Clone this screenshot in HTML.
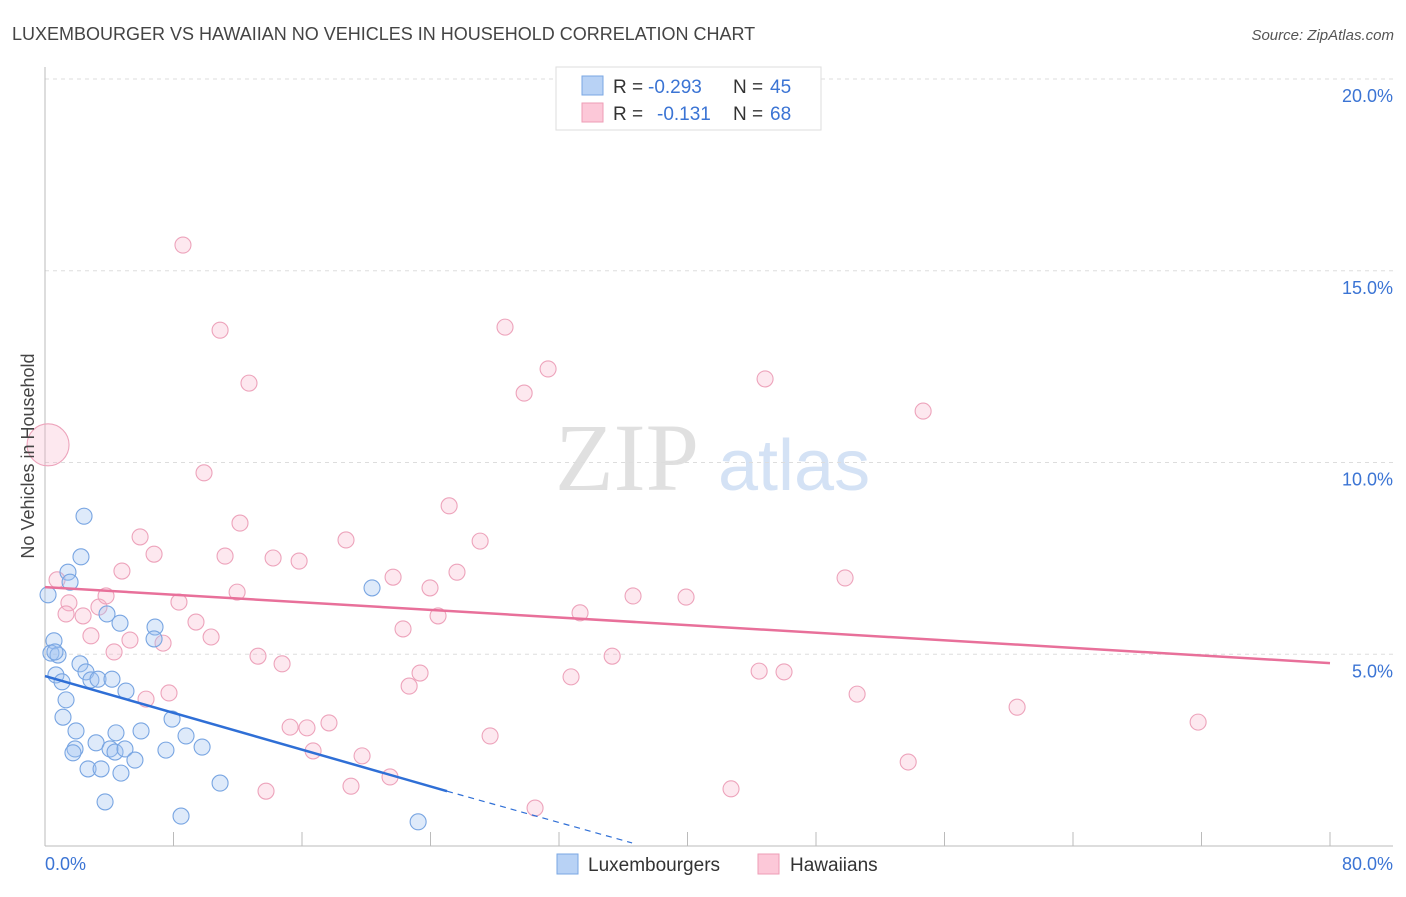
<!DOCTYPE html>
<html><head><meta charset="utf-8"><style>
body{margin:0;background:#fff;font-family:"Liberation Sans",sans-serif}
</style></head><body>
<svg id="chart" width="1406" height="892" xmlns="http://www.w3.org/2000/svg">
<text x="12" y="40" font-size="18" fill="#444">LUXEMBOURGER VS HAWAIIAN NO VEHICLES IN HOUSEHOLD CORRELATION CHART</text>
<text x="1394" y="40" font-size="15" fill="#555" font-style="italic" text-anchor="end">Source: ZipAtlas.com</text>
<g>
<text x="555" y="490" font-size="96" font-family="Liberation Serif,serif" fill="#e0e0e0">ZIP</text>
<text x="718" y="490" font-size="72" fill="#d4e2f5">atlas</text>
</g>
<g id="grid"></g>
<g id="axes"></g>
<g id="points"></g>
<g id="trends"></g>
<text transform="translate(34,456) rotate(-90)" font-size="18" fill="#444" text-anchor="middle">No Vehicles in Household</text>
<g>
<rect x="556" y="67" width="265" height="63" fill="#fff" stroke="#ddd"/>
<rect x="582" y="76" width="21" height="19" fill="#b8d2f5" stroke="#7aa7e3"/>
<rect x="582" y="103" width="21" height="19" fill="#fcc8d8" stroke="#ee9db6"/>
<text x="613" y="93" font-size="19" fill="#333">R =</text>
<text x="648" y="93" font-size="19" fill="#3b74d4">-0.293</text>
<text x="733" y="93" font-size="19" fill="#333">N =</text>
<text x="770" y="93" font-size="19" fill="#3b74d4">45</text>
<text x="613" y="120" font-size="19" fill="#333">R =</text>
<text x="657" y="120" font-size="19" fill="#3b74d4">-0.131</text>
<text x="733" y="120" font-size="19" fill="#333">N =</text>
<text x="770" y="120" font-size="19" fill="#3b74d4">68</text>
</g>
<g>
<rect x="557" y="854" width="21" height="20" fill="#b8d2f5" stroke="#7aa7e3"/>
<text x="588" y="871" font-size="19" fill="#333">Luxembourgers</text>
<rect x="758" y="854" width="21" height="20" fill="#fcc8d8" stroke="#ee9db6"/>
<text x="790" y="871" font-size="19" fill="#333">Hawaiians</text>
</g>
</svg>
<script>
const yTicks=[5,10,15,20];
const yTickLabels=["5.0%","10.0%","15.0%","20.0%"];
const xTickLabels=["0.0%","80.0%"];
const luxX=[0.19,0.56,0.37,0.81,0.68,1.06,1.43,1.56,2.43,2.24,3.86,4.67,6.85,6.79,2.18,2.55,2.86,3.3,4.17,5.04,1.31,1.12,1.93,1.87,1.74,3.18,4.05,4.36,4.42,4.98,5.98,5.6,7.91,8.78,9.78,7.53,2.68,3.49,4.73,3.74,10.9,8.47,20.36,23.23,0.62];
const luxY=[6.55,5.35,5.03,4.98,4.46,4.28,7.14,6.88,8.6,7.54,6.05,5.81,5.71,5.4,4.75,4.54,4.33,4.35,4.35,4.04,3.81,3.36,3.0,2.53,2.43,2.69,2.53,2.45,2.95,2.53,3.0,2.24,3.31,2.87,2.58,2.5,2.01,2.01,1.9,1.15,1.64,0.78,6.73,0.63,5.06];
const hawX=[0.19,8.59,10.9,28.64,12.7,31.32,29.83,44.83,54.67,9.9,25.16,12.14,5.92,6.79,11.21,14.2,15.82,18.74,27.09,4.79,0.75,1.49,1.31,2.37,3.36,3.8,8.34,11.96,21.67,23.97,25.65,33.31,36.61,39.91,49.81,9.4,2.86,5.29,7.35,10.34,4.3,13.26,14.76,22.29,24.47,35.31,44.46,46.01,32.75,23.35,22.67,6.29,7.72,50.56,60.52,71.79,15.26,16.31,17.68,27.71,16.69,19.74,21.48,13.76,19.05,30.51,42.71,53.74];
const hawY=[10.46,15.67,13.45,13.53,12.07,12.44,11.81,12.18,11.34,9.73,8.87,8.42,8.06,7.61,7.56,7.51,7.43,7.98,7.95,7.17,6.94,6.34,6.05,6.0,6.23,6.52,6.36,6.62,7.01,6.73,7.14,6.08,6.52,6.49,6.99,5.84,5.48,5.37,5.29,5.45,5.06,4.95,4.75,5.66,6.0,4.95,4.56,4.54,4.41,4.51,4.17,3.83,3.99,3.96,3.62,3.23,3.1,3.08,3.21,2.87,2.48,2.35,1.8,1.43,1.56,0.99,1.49,2.19];
const luxTrendX=[0,25.03,36.55];
const luxTrendY=[4.43,1.43,0.08];
const hawTrendX=[0,80];
const hawTrendY=[6.75,4.77];
const NS="http://www.w3.org/2000/svg";
const sx=v=>45+v*16.0625, sy=v=>846-v*38.35;
function mk(tag,attrs,parent){const e=document.createElementNS(NS,tag);for(const k in attrs)e.setAttribute(k,attrs[k]);document.getElementById(parent).appendChild(e);return e;}
yTicks.forEach((t,i)=>{
 const l=mk('line',{x1:45,x2:1393,y1:sy(t),y2:sy(t),stroke:'#ddd','stroke-dasharray':'4,4'},'grid');
 
 
 const tx=mk('text',{x:1393,y:sy(t)+23,'font-size':18,fill:'#3b74d4','text-anchor':'end'},'grid');
 tx.textContent=yTickLabels[i];
 
 
});
const ax=mk('line',{x1:45,x2:1393,y1:846,y2:846,stroke:'#bbb'},'axes');


const ay=mk('line',{x1:45,x2:45,y1:67,y2:846,stroke:'#bbb'},'axes');


for(let i=0;i<=10;i++){
 const t=mk('line',{x1:sx(i*8),x2:sx(i*8),y1:832,y2:846,stroke:'#bbb'},'axes');
 
 
}
const xl0=mk('text',{x:45,y:870,'font-size':18,fill:'#3b74d4'},'axes');xl0.textContent=xTickLabels[0];


const xl1=mk('text',{x:1393,y:870,'font-size':18,fill:'#3b74d4','text-anchor':'end'},'axes');xl1.textContent=xTickLabels[1];


hawX.forEach((x,i)=>{
 const c=mk('circle',{cx:sx(x),cy:sy(hawY[i]),r:i===0?21:8,fill:'rgba(248,180,202,0.3)',stroke:'#eda3bb','stroke-width':1.1},'points');
 
 
});
luxX.forEach((x,i)=>{
 const c=mk('circle',{cx:sx(x),cy:sy(luxY[i]),r:8,fill:'rgba(160,196,240,0.35)',stroke:'#78a5e2','stroke-width':1.1},'points');
 
 
});
const pt=mk('line',{x1:sx(hawTrendX[0]),y1:sy(hawTrendY[0]),x2:sx(hawTrendX[1]),y2:sy(hawTrendY[1]),stroke:'#e8709a','stroke-width':2.5},'trends');


const bt=mk('line',{x1:sx(luxTrendX[0]),y1:sy(luxTrendY[0]),x2:sx(luxTrendX[1]),y2:sy(luxTrendY[1]),stroke:'#2f6fd6','stroke-width':2.5},'trends');


const bd=mk('line',{x1:sx(luxTrendX[1]),y1:sy(luxTrendY[1]),x2:sx(luxTrendX[2]),y2:sy(luxTrendY[2]),stroke:'#2f6fd6','stroke-width':1.2,'stroke-dasharray':'6,5'},'trends');


</script>
</body></html>
